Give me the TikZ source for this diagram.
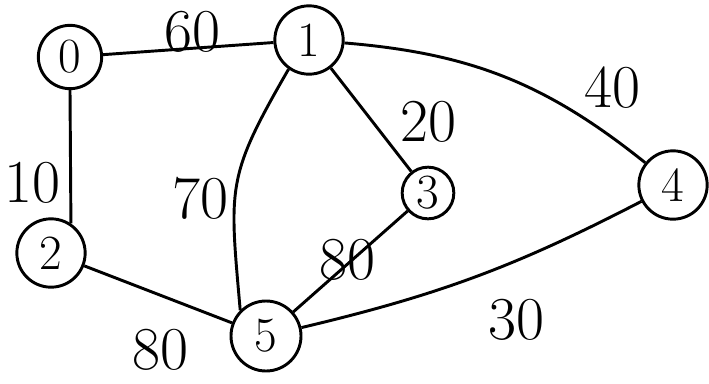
\documentclass[tikz,border=0pt]{standalone}
\usepackage{fontspec}
\usetikzlibrary{positioning}

\begin{document}
\begin{tikzpicture}[x=0.03cm, y=-0.03cm, line width=2.5pt,
    vertex/.style={draw, circle, inner sep=0pt, font=\fontsize{42}{42}\selectfont},
    weight/.style={inner sep=0pt, font=\fontsize{52}{52}\selectfont}]
    \useasboundingbox (0,0) rectangle (709,383);

    % Vertices
    \node[vertex, minimum size=1.9cm] (v0) at (70,57) {0};
    \node[vertex, minimum size=2.05cm] (v1) at (309,40) {1};
    \node[vertex, minimum size=2.05cm] (v2) at (51,253) {2};
    \node[vertex, minimum size=1.55cm] (v3) at (428,193) {3};
    \node[vertex, minimum size=2.05cm] (v4) at (673,185) {4};
    \node[vertex, minimum size=2.1cm] (v5) at (266,336) {5};

    % Edges
    \draw (v0) -- (v1);
    \draw (v0.south) -- (v2.56);
    \draw (v1) -- (v3);
    \draw (v3) -- (v5);
    \draw (v2) -- (v5);
    \draw (v1.235) to[out=240, in=95, looseness=1.3] (v5.135);
    \draw (v1) to[bend left=17] (v4);
    \draw (v5) to[bend right=7] (v4);

    % Weights
    \node[weight] (w01) at (192,32) {60};
    \node[weight] (w02) at (32,183) {10};
    \node[weight] (w15) at (200,198) {70};
    \node[weight] (w13) at (428,122) {20};
    \node[weight] (w14) at (612,88) {40};
    \node[weight] (w35) at (347,260) {80};
    \node[weight] (w25) at (160,350) {80};
    \node[weight] (w54) at (516,320) {30};
\end{tikzpicture}
\end{document}
